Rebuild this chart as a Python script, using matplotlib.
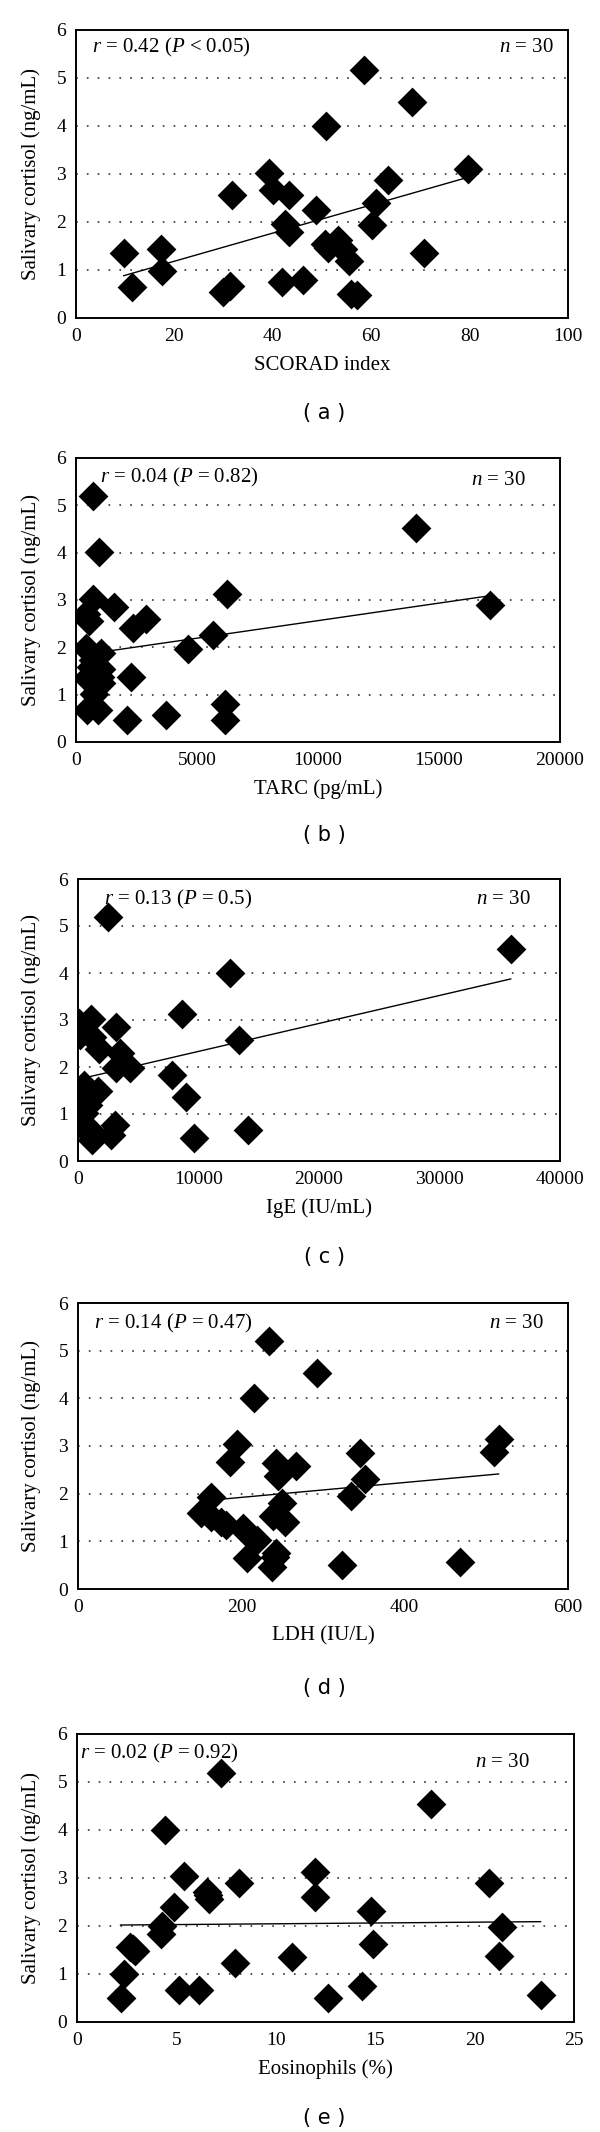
import numpy as np
import matplotlib
matplotlib.use("Agg")
import matplotlib.pyplot as plt

plt.rcParams['font.family'] = ['Liberation Serif', 'DejaVu Serif']
plt.rcParams['mathtext.fontset'] = 'custom'
plt.rcParams['mathtext.rm'] = 'Liberation Serif'
plt.rcParams['mathtext.it'] = 'Liberation Serif:italic'

# (a) SCORAD index
scorad_x = [9.7, 11.3, 17.2, 17.4, 29.9, 31.4, 31.7, 39.2, 40.0, 43.3, 41.8, 42.5, 43.3, 46.2, 48.8,
            50.8, 50.6, 51.3, 53.3, 54.3, 55.4, 55.9, 57.2, 58.6, 60.2, 61.0, 63.5, 68.2, 70.7, 79.7]
scorad_y = [1.36, 0.65, 1.43, 0.98, 0.54, 0.66, 2.57, 3.03, 2.67, 2.56, 0.74, 1.95, 1.79, 0.80, 2.26,
            3.99, 1.55, 1.45, 1.63, 1.44, 1.19, 0.49, 0.47, 5.17, 1.94, 2.40, 2.87, 4.51, 1.36, 3.11]

# (b) TARC
tarc_x = [684, 970, 684, 1574, 397, 556, 2353, 2878, 6248, 5660, 4626, 14070, 17090, 397, 1033,
          604, 1033, 445, 1033, 763, 2273, 445, 922, 2114, 3736, 6169, 6169, 763, 684, 1000]
tarc_y = [5.20, 4.01, 3.03, 2.86, 2.70, 2.56, 2.40, 2.59, 3.13, 2.27, 1.97, 4.53, 2.89, 1.98, 1.87,
          1.59, 1.55, 1.36, 1.24, 1.02, 1.37, 0.68, 0.67, 0.47, 0.56, 0.80, 0.47, 1.45, 1.74, 1.38]

# (c) IgE
ige_x = [2524, 12620, 35910, 8658, 13390, 100, 150, 1118, 1180, 1757, 3195, 3482, 3195, 4281, 7796,
         8978, 9649, 14120, 288, 320, 479, 383, 1182, 1182, 2716, 3099, 1661, 927, 479, 799]
ige_y = [5.19, 4.01, 4.51, 3.13, 2.58, 2.93, 2.68, 3.02, 2.63, 2.38, 2.86, 2.29, 1.97, 1.97, 1.83,
         1.36, 0.48, 0.66, 1.53, 1.34, 1.02, 0.73, 0.62, 0.45, 0.55, 0.77, 1.48, 1.37, 1.62, 1.20]

# (d) LDH
ldh_x = [234, 293, 215, 195, 186, 243, 267, 245, 345, 351, 334, 515, 509, 163, 150,
         163, 175, 181, 250, 239, 254, 202, 219, 207, 243, 238, 323, 468, 241, 206]
ldh_y = [5.20, 4.53, 4.01, 3.04, 2.67, 2.65, 2.58, 2.37, 2.86, 2.30, 1.95, 3.14, 2.88, 1.93, 1.59,
         1.52, 1.41, 1.34, 1.80, 1.54, 1.41, 1.27, 1.02, 0.66, 0.76, 0.47, 0.50, 0.57, 0.68, 1.20]

# (e) Eosinophils
eos_x = [2.19, 2.36, 2.67, 2.94, 4.22, 4.26, 4.45, 4.88, 5.38, 5.13, 6.15, 6.54, 6.62, 7.26, 8.17,
         7.97, 10.84, 11.96, 11.96, 12.64, 14.32, 14.80, 14.90, 17.80, 20.70, 21.38, 21.23, 23.32, 2.8, 6.6]
eos_y = [0.49, 1.01, 1.57, 1.48, 1.83, 2.00, 4.01, 2.40, 3.04, 0.66, 0.66, 2.70, 2.57, 5.19, 2.89,
         1.23, 1.36, 3.13, 2.61, 0.49, 0.76, 2.31, 1.62, 4.54, 2.90, 1.97, 1.38, 0.57, 1.52, 2.65]

xs = [scorad_x, tarc_x, ige_x, ldh_x, eos_x]
ys = [scorad_y, tarc_y, ige_y, ldh_y, eos_y]
xlabels = ["SCORAD index", "TARC (pg/mL)", "IgE (IU/mL)", "LDH (IU/L)", "Eosinophils (%)"]
xmax = [100, 20000, 40000, 600, 25]
xstep = [20, 5000, 10000, 200, 5]
stats = [r"$\it{r}$ = 0.42 ($\it{P}$ < 0.05)", r"$\it{r}$ = 0.04 ($\it{P}$ = 0.82)",
         r"$\it{r}$ = 0.13 ($\it{P}$ = 0.5)", r"$\it{r}$ = 0.14 ($\it{P}$ = 0.47)",
         r"$\it{r}$ = 0.02 ($\it{P}$ = 0.92)"]
panel = ["( a )", "( b )", "( c )", "( d )", "( e )"]
# trend lines
trend_slope = [0.0293, 7.41e-5, 5.95e-5, 0.00156, 0.00332]
trend_icpt = [0.597, 1.823, 1.737, 1.61, 2.013]

# layout in pixels (left, right, top, bottom) of each axes box
boxes = [(76, 568, 30, 318), (76, 560, 458, 742), (78, 560, 879, 1161),
         (78, 568, 1303, 1589), (77, 574, 1734, 2022)]
stat_pos = [(0.033, 0.94), (0.05, 0.933), (0.054, 0.926), (0.033, 0.93), (0.006, 0.934)]
n_pos = [(0.97, 0.94), (0.93, 0.92), (0.94, 0.926), (0.95, 0.93), (0.91, 0.90)]
label_y = [413, 835, 1257, 1688, 2118]

W, H = 600, 2132
fig = plt.figure(figsize=(W / 100, H / 100), dpi=100)

for i in range(5):
    l, r, t, b = boxes[i]
    ax = fig.add_axes([l / W, 1 - b / H, (r - l) / W, (b - t) / H])
    for yv in range(1, 6):
        ax.axhline(yv, color='#222222', lw=1.1, ls=(0, (1.1, 6)), zorder=1)
    ax.scatter(xs[i], ys[i], marker='D', s=230, color='black', zorder=3, linewidths=0)
    x0, x1 = min(xs[i]), max(xs[i])
    lx = np.array([x0, x1])
    ax.plot(lx, trend_icpt[i] + trend_slope[i] * lx, color='black', lw=1.0, zorder=2)
    ax.set_xlim(0, xmax[i])
    ax.set_ylim(0, 6)
    ax.set_xticks(np.arange(0, xmax[i] + 1, xstep[i]))
    ax.set_yticks(range(0, 7))
    ax.tick_params(length=0, labelsize=14, pad=7)
    for s in ax.spines.values():
        s.set_linewidth(1.4)
    ax.text(stat_pos[i][0], stat_pos[i][1], stats[i], transform=ax.transAxes,
            fontsize=15, ha='left', va='center')
    ax.text(n_pos[i][0], n_pos[i][1], r"$\it{n}$ = 30", transform=ax.transAxes,
            fontsize=15, ha='right', va='center')
    ax.text(0.5, -(47 / (b - t)), xlabels[i], transform=ax.transAxes,
            fontsize=15, ha='center', va='center')
    ax.text(-(l - 31) / (r - l), 0.5, "Salivary cortisol (ng/mL)", transform=ax.transAxes,
            fontsize=15, ha='center', va='center', rotation=90)
    fig.text(324 / W, 1 - label_y[i] / H, panel[i], fontsize=15, ha='center', va='center',
             family='DejaVu Sans')

fig.savefig("out.png", dpi=100)
